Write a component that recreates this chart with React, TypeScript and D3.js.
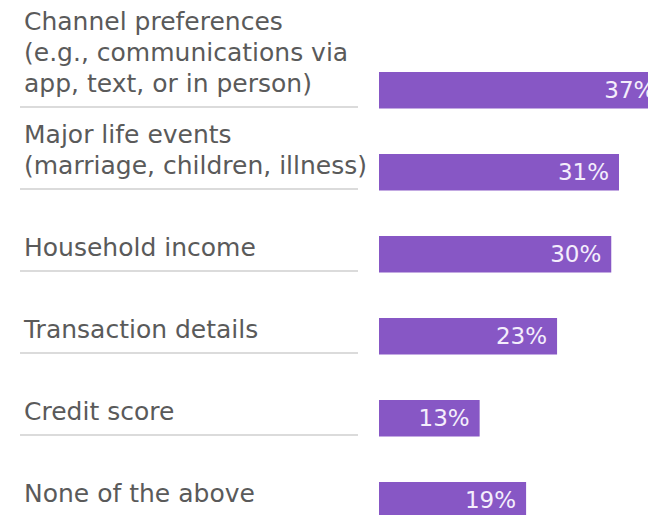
import React, { useEffect, useRef } from "react";
import * as d3 from "d3";

// categories (label lines) and values, top to bottom
const categories: string[][] = [
  ["Channel preferences", "(e.g., communications via", "app, text, or in person)"],
  ["Major life events", "(marriage, children, illness)"],
  ["Household income"],
  ["Transaction details"],
  ["Credit score"],
  ["None of the above"],
];
const values: number[] = [37, 31, 30, 23, 13, 19];

const App: React.FC = () => {
  const svgRef = useRef<SVGSVGElement | null>(null);

  useEffect(() => {
    if (!svgRef.current) return;
    const svg = d3.select(svgRef.current);
    svg.selectAll("*").remove();

    const barLeft = 379;
    const font = "'DejaVu Sans', Verdana, sans-serif";
    const step = 82;
    const barH = 36.5;

    // x: percent -> pixels (the 37% bar runs off the right edge)
    const x = d3.scaleLinear().domain([0, 31]).range([barLeft, 619]);

    const y = d3.scaleBand<number>()
      .domain(d3.range(values.length))
      .range([72, 72 + step * (values.length - 1) + barH])
      .paddingInner((step - barH) / step)
      .paddingOuter(0);

    const rows = svg.selectAll("g.row")
      .data(values)
      .enter()
      .append("g")
      .attr("class", "row");

    rows.append("rect")
      .attr("x", barLeft)
      .attr("y", (_, i) => y(i)!)
      .attr("width", d => x(d) - barLeft)
      .attr("height", y.bandwidth())
      .attr("fill", "#8757c5");

    rows.append("text")
      .attr("x", d => x(d) - 10)
      .attr("y", (_, i) => y(i)! + y.bandwidth() / 2 + 8)
      .attr("text-anchor", "end")
      .attr("fill", "#f4eefc")
      .style("font-family", font)
      .style("font-size", "23px")
      .text(d => `${d}%`);

    // separator lines under labels
    rows.filter((_, i) => i < values.length - 1)
      .append("line")
      .attr("x1", 20)
      .attr("x2", 358)
      .attr("y1", (_, i) => y(i)! + y.bandwidth() - 1.5)
      .attr("y2", (_, i) => y(i)! + y.bandwidth() - 1.5)
      .attr("stroke", "#cfcfcf")
      .attr("stroke-width", 1.5);

    // category labels, last line sits near the bar centre
    rows.each(function (_, i) {
      const lines = categories[i];
      const lastBase = y(i)! + y.bandwidth() / 2 + 2;
      const t = d3.select(this).append("text")
        .attr("fill", "#5a5a5a")
        .style("font-family", font)
        .style("font-size", "25px");
      lines.forEach((ln, j) => {
        t.append("tspan")
          .attr("x", 24)
          .attr("y", lastBase - (lines.length - 1 - j) * 31)
          .text(ln);
      });
    });
  }, []);

  return (
    <svg
      ref={svgRef}
      width={648}
      height={515}
      style={{ position: "absolute", left: 0, top: 0, background: "#fff" }}
    ></svg>
  );
};

export default App;
